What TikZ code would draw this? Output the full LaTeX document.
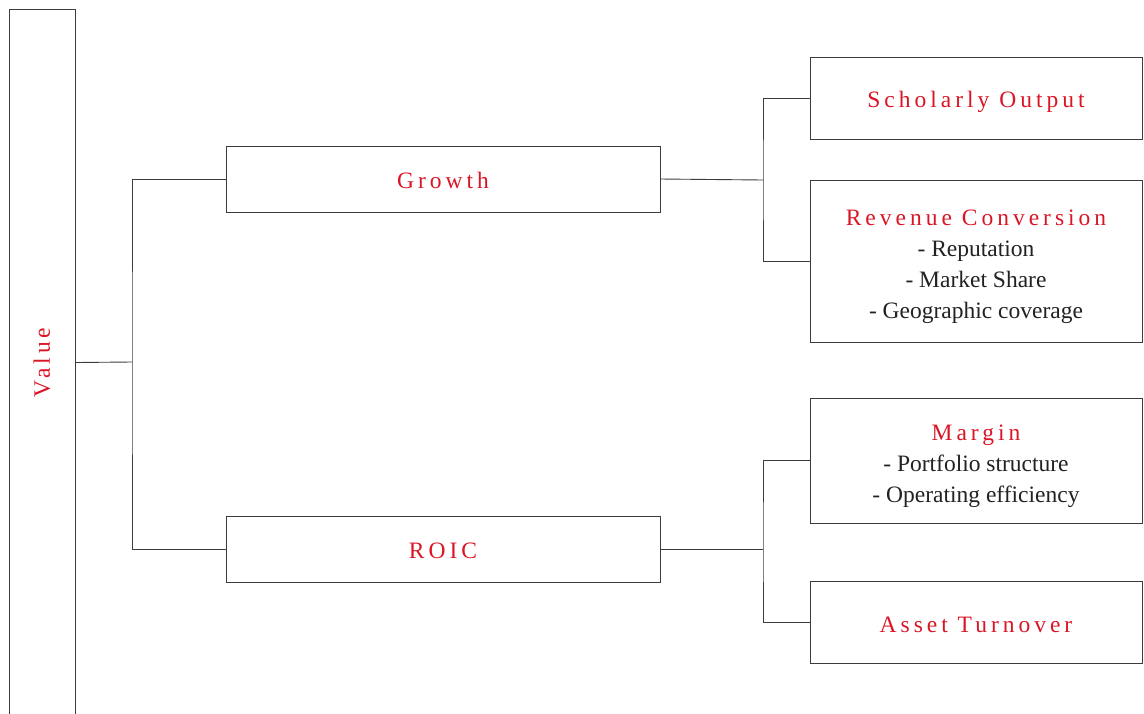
\documentclass[tikz,border=0pt]{standalone}
\usepackage{fontspec}
\setmainfont{Liberation Serif}
\newfontfamily\spacedfont[LetterSpace=17]{Liberation Serif}
\usepackage{graphicx}
\definecolor{titlered}{RGB}{218,22,38}
\definecolor{txt}{RGB}{34,34,34}
\definecolor{ln}{RGB}{60,60,60}
\newcommand\ttl[1]{{\color{titlered}\spacedfont #1}}
\newcommand\lift[1]{\rule{0pt}{#1}}
\tikzset{
  box/.style={draw=ln, line width=0.9pt, inner sep=0pt, align=center, text=txt,
              font=\fontsize{23.5}{31}\selectfont},
  conn/.style={draw=ln, line width=0.9pt},
}
\begin{document}
\begin{tikzpicture}[x=1pt,y=-1pt]
\useasboundingbox (0,0) rectangle (1144,713);
\node[box, minimum width=66pt, minimum height=707pt] (value) at (42,362.5) {\rotatebox{90}{\ttl{Value}}};
\node[box, minimum width=434pt, minimum height=66pt] (growth) at (443,179) {\lift{20pt}\ttl{Growth}};
\node[box, minimum width=434pt, minimum height=66pt] (roic) at (443,549) {\lift{19.5pt}\ttl{ROIC}};
\node[box, minimum width=332pt, minimum height=82pt] (scholarly) at (976,98) {\lift{24pt}\ttl{Scholarly Output}};
\node[box, minimum width=332pt, minimum height=162pt] (revenue) at (976,261) {\lift{27pt}\ttl{Revenue Conversion}\\- Reputation\\- Market Share\\- Geographic coverage};
\node[box, minimum width=332pt, minimum height=125pt] (margin) at (976,460.5) {\lift{27pt}\ttl{Margin}\\- Portfolio structure\\- Operating efficiency};
\node[box, minimum width=332pt, minimum height=82pt] (asset) at (976,622) {\lift{21.5pt}\ttl{Asset Turnover}};
\coordinate (vj) at (132,362);
\coordinate (gj) at (763,180);
\coordinate (rj) at (763,543);
\draw[conn] (value.east) -- (vj);
\draw[conn] (growth.west) -| (vj) |- (roic.west);
\draw[conn] (growth.east) -- (gj);
\draw[conn] (scholarly.west) -| (gj) |- (revenue.west);
\draw[conn] (roic.east) -- (roic.east -| rj);
\draw[conn] (margin.west) -| (rj) |- (asset.west);
\end{tikzpicture}
\end{document}
